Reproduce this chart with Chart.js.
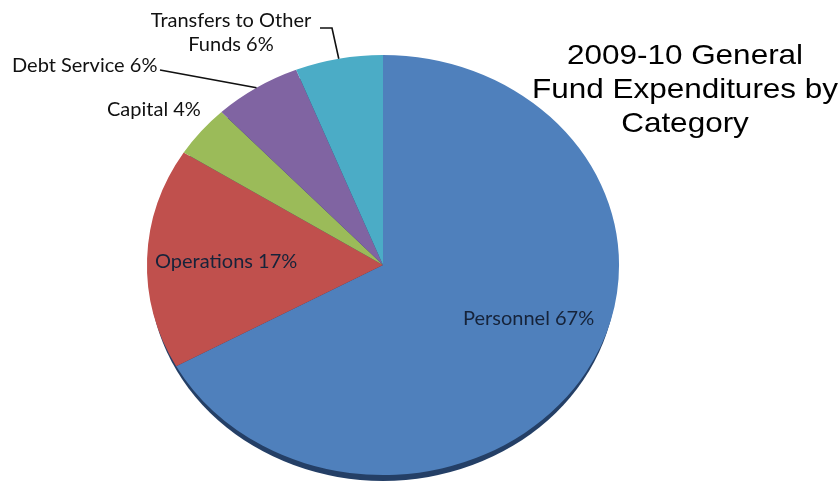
<!DOCTYPE html>
<html>
<head>
<meta charset="utf-8">
<script src="https://cdn.jsdelivr.net/npm/chart.js@4.4.0/dist/chart.umd.min.js"></script>
<style>
  html, body { margin: 0; padding: 0; background: #fff; }
  #wrap { width: 839px; height: 489px; position: relative; }
</style>
</head>
<body>
<div id="wrap"><canvas id="pie" width="839" height="489"></canvas></div>
<script>
// ===== General fund expenditures pie =====
const categories = ["Personnel", "Operations", "Capital", "Debt Service", "Transfers to Other Funds"];
const shares = [67, 17, 4, 6, 6];
const sliceColors = ["#4f80bc", "#c0504d", "#9bbb59", "#8064a2", "#4bacc6"];
const titleLines = ["2009-10 General", "Fund Expenditures by", "Category"];

// pie (and title) are drawn a bit wider than tall
const STRETCH_X = 1.124;
const RIM_DEPTH = 8;

function stretch(ctx, cx, cy) {
  ctx.translate(cx, cy);
  ctx.scale(STRETCH_X, 1);
  ctx.translate(-cx, -cy);
}

const ellipsePie = {
  id: "ellipsePie",
  beforeDatasetsDraw(chart) {
    const arc = chart.getDatasetMeta(0).data[0];
    const ctx = chart.ctx;
    // dark rim under the disc, tucked in at the sides
    ctx.save();
    stretch(ctx, arc.x, arc.y);
    ctx.beginPath();
    ctx.arc(arc.x, arc.y + RIM_DEPTH, arc.outerRadius * 0.99, 0, Math.PI * 2);
    ctx.fillStyle = "#243f66";
    ctx.fill();
    ctx.restore();

    ctx.save();
    stretch(ctx, arc.x, arc.y);
  },
  afterDatasetsDraw(chart) {
    chart.ctx.restore();
  }
};

// point on the stretched edge at the middle of slice i
function edgePoint(chart, i) {
  const a = chart.getDatasetMeta(0).data[i];
  const mid = (a.startAngle + a.endAngle) / 2;
  return [a.x + Math.cos(mid) * a.outerRadius * STRETCH_X, a.y + Math.sin(mid) * a.outerRadius];
}

const labelsPlugin = {
  id: "sliceLabels",
  afterDraw(chart) {
    const ctx = chart.ctx;
    ctx.save();
    ctx.font = "20px Lato";
    ctx.textBaseline = "alphabetic";
    ctx.textAlign = "left";

    // inside labels
    ctx.fillStyle = "#16233a";
    ctx.fillText(categories[0] + " " + shares[0] + "%", 463, 325);
    ctx.fillText(categories[1] + " " + shares[1] + "%", 155, 268);

    // outside labels
    ctx.fillStyle = "#111";
    ctx.fillText(categories[2] + " " + shares[2] + "%", 107, 116);
    ctx.fillText(categories[3] + " " + shares[3] + "%", 12, 72);
    ctx.textAlign = "center";
    ctx.fillText("Transfers to Other", 231, 27);
    ctx.fillText("Funds " + shares[4] + "%", 231, 51);

    // leader lines
    ctx.strokeStyle = "#111";
    ctx.lineWidth = 1.6;
    const d = edgePoint(chart, 3);
    ctx.beginPath();
    ctx.moveTo(160, 70);
    ctx.lineTo(d[0], d[1]);
    ctx.stroke();
    const t = edgePoint(chart, 4);
    ctx.beginPath();
    ctx.moveTo(320, 28);
    ctx.lineTo(332, 28);
    ctx.lineTo(t[0], t[1]);
    ctx.stroke();

    // title, widened like the pie
    ctx.fillStyle = "#000";
    ctx.font = "28px 'Liberation Sans'";
    ctx.textAlign = "center";
    titleLines.forEach((line, k) => {
      const y = 64 + k * 34;
      ctx.save();
      stretch(ctx, 685, y);
      ctx.fillText(line, 685, y);
      ctx.restore();
    });
    ctx.restore();
  }
};

new Chart(document.getElementById("pie"), {
  type: "pie",
  data: {
    labels: categories,
    datasets: [{
      data: shares,
      backgroundColor: sliceColors,
      borderWidth: 0
    }]
  },
  options: {
    responsive: false,
    animation: false,
    events: [],
    layout: { padding: { left: 173, right: 246, top: 55, bottom: 14 } },
    plugins: { legend: { display: false }, tooltip: { enabled: false } }
  },
  plugins: [ellipsePie, labelsPlugin]
});
</script>
</body>
</html>
